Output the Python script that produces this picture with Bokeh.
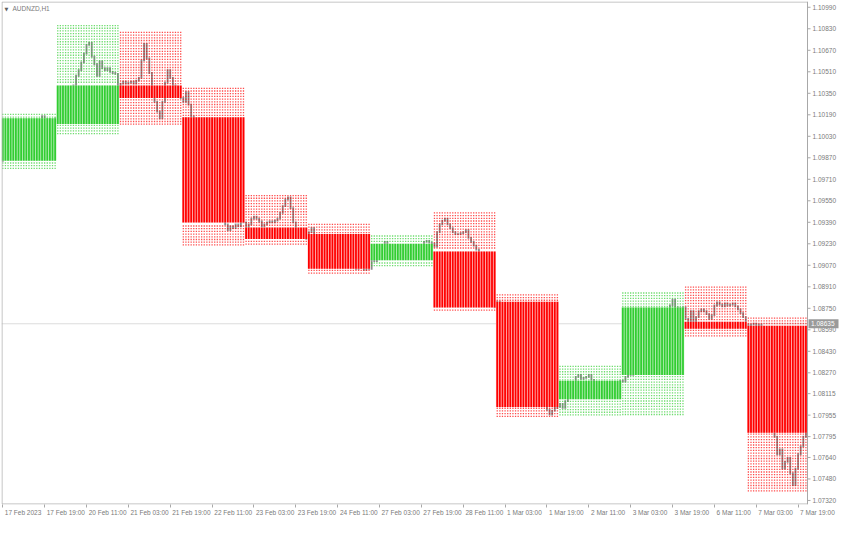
import numpy as np
from bokeh.plotting import figure
from bokeh.models import Range1d, FixedTicker, Span, Label, ColumnDataSource
from bokeh.core.properties import value
from bokeh.embed import file_html
from bokeh.resources import INLINE

symbol = "AUDNZD,H1"

# Daily (higher timeframe) candles
d1_days = ["17 Feb", "20 Feb", "21 Feb", "22 Feb", "23 Feb", "24 Feb", "27 Feb",
           "28 Feb", "1 Mar", "2 Mar", "3 Mar", "6 Mar", "7 Mar"]
d1_bars = [21, 24, 24, 24, 24, 24, 24, 24, 24, 24, 24, 24, 24]   # H1 slots per day
d1_open = [1.09848, 1.10121, 1.10408, 1.10171, 1.09352, 1.09302, 1.09108,
           1.09173, 1.08799, 1.08074, 1.08254, 1.08649, 1.08620]
d1_high = [1.10193, 1.10854, 1.10803, 1.10387, 1.09589, 1.09374, 1.09288,
           1.09460, 1.08850, 1.08318, 1.08864, 1.08907, 1.08677]
d1_low = [1.09783, 1.10056, 1.10121, 1.09223, 1.09223, 1.09015, 1.09072,
          1.08728, 1.07938, 1.07966, 1.07959, 1.08548, 1.07399]
d1_close = [1.10164, 1.10408, 1.10315, 1.09388, 1.09266, 1.09044, 1.09230,
            1.08756, 1.08016, 1.08210, 1.08756, 1.08598, 1.07823]

# Hourly closes (one per H1 bar)
h1_close = [
    # 17 Feb
    1.09870, 1.09890, 1.09865, 1.09880, 1.09910, 1.09895, 1.09930, 1.09970, 1.10010, 1.09990, 1.10040,
    1.10080, 1.10060, 1.10110, 1.10150, 1.10180, 1.10140, 1.10160, 1.10130, 1.10150, 1.10164,
    # 20 Feb
    1.10143, 1.10193, 1.10236, 1.10286, 1.10322, 1.10358, 1.10408, 1.10480, 1.10523, 1.10580, 1.10645, 1.10710,
    1.10724, 1.10623, 1.10566, 1.10480, 1.10588, 1.10537, 1.10523, 1.10537, 1.10509, 1.10501, 1.10494, 1.10408,
    # 21 Feb
    1.10422, 1.10437, 1.10422, 1.10430, 1.10437, 1.10422, 1.10444, 1.10465, 1.10595, 1.10717, 1.10609, 1.10501,
    1.10379, 1.10286, 1.10214, 1.10164, 1.10286, 1.10430, 1.10523, 1.10465, 1.10408, 1.10379, 1.10351, 1.10315,
    # 22 Feb
    1.10286, 1.10358, 1.10265, 1.10178, 1.10107, 1.10035, 1.09963, 1.09891, 1.09834, 1.09783, 1.09733, 1.09676,
    1.09618, 1.09568, 1.09518, 1.09460, 1.09374, 1.09331, 1.09360, 1.09346, 1.09374, 1.09360, 1.09389, 1.09389,
    # 23 Feb
    1.09331, 1.09374, 1.09417, 1.09432, 1.09417, 1.09396, 1.09360, 1.09374, 1.09389, 1.09396, 1.09389, 1.09403,
    1.09417, 1.09460, 1.09511, 1.09561, 1.09575, 1.09496, 1.09389, 1.09331, 1.09302, 1.09288, 1.09274, 1.09267,
    # 24 Feb
    1.09317, 1.09346, 1.09288, 1.09259, 1.09231, 1.09209, 1.09187, 1.09202, 1.09173, 1.09152, 1.09130, 1.09144,
    1.09116, 1.09101, 1.09087, 1.09065, 1.09080, 1.09058, 1.09044, 1.09058, 1.09051, 1.09037, 1.09051, 1.09044,
    # 27 Feb
    1.09116, 1.09101, 1.09130, 1.09159, 1.09202, 1.09245, 1.09216, 1.09187, 1.09173, 1.09159, 1.09144, 1.09159,
    1.09173, 1.09187, 1.09159, 1.09144, 1.09173, 1.09187, 1.09209, 1.09216, 1.09245, 1.09252, 1.09238, 1.09231,
    # 28 Feb
    1.09209, 1.09317, 1.09374, 1.09403, 1.09417, 1.09374, 1.09346, 1.09317, 1.09302, 1.09302, 1.09310, 1.09317,
    1.09331, 1.09274, 1.09245, 1.09216, 1.09187, 1.09159, 1.09065, 1.08994, 1.08922, 1.08865, 1.08814, 1.08757,
    # 1 Mar
    1.08800, 1.08757, 1.08706, 1.08656, 1.08599, 1.08541, 1.08498, 1.08455, 1.08469, 1.08419, 1.08369, 1.08326,
    1.08283, 1.08240, 1.08197, 1.08167, 1.08131, 1.08095, 1.08052, 1.07995, 1.07959, 1.07988, 1.08009, 1.08016,
    # 2 Mar
    1.08038, 1.08009, 1.08059, 1.08110, 1.08153, 1.08197, 1.08240, 1.08254, 1.08225, 1.08232, 1.08240, 1.08254,
    1.08218, 1.08197, 1.08182, 1.08167, 1.08153, 1.08138, 1.08124, 1.08131, 1.08153, 1.08167, 1.08189, 1.08211,
    # 3 Mar
    1.08204, 1.08240, 1.08268, 1.08254, 1.08276, 1.08311, 1.08369, 1.08419, 1.08469, 1.08513, 1.08541, 1.08584,
    1.08613, 1.08635, 1.08656, 1.08671, 1.08699, 1.08728, 1.08771, 1.08814, 1.08757, 1.08742, 1.08750, 1.08757,
    # 6 Mar
    1.08671, 1.08635, 1.08728, 1.08613, 1.08685, 1.08728, 1.08742, 1.08728, 1.08706, 1.08671, 1.08699, 1.08771,
    1.08793, 1.08778, 1.08764, 1.08786, 1.08771, 1.08778, 1.08786, 1.08764, 1.08742, 1.08714, 1.08685, 1.08628,
    # 7 Mar
    1.08613, 1.08628, 1.08635, 1.08620, 1.08628, 1.08599, 1.08455, 1.08276, 1.08095, 1.07916, 1.07794, 1.07664,
    1.07700, 1.07557, 1.07607, 1.07636, 1.07521, 1.07435, 1.07557, 1.07664, 1.07722, 1.07794, 1.07822,
]

x_tick_bars = [0, 16, 32, 48, 64, 80, 96, 112, 128, 144, 160, 176, 192, 208, 224, 240, 256, 272, 288, 304]
x_tick_labels = ["17 Feb 2023", "17 Feb 19:00", "20 Feb 11:00", "21 Feb 03:00", "21 Feb 19:00",
                 "22 Feb 11:00", "23 Feb 03:00", "23 Feb 19:00", "24 Feb 11:00", "27 Feb 03:00",
                 "27 Feb 19:00", "28 Feb 11:00", "1 Mar 03:00", "1 Mar 19:00", "2 Mar 11:00",
                 "3 Mar 03:00", "3 Mar 19:00", "6 Mar 11:00", "7 Mar 03:00", "7 Mar 19:00"]
price_ticks = [1.10990, 1.10830, 1.10670, 1.10510, 1.10350, 1.10190, 1.10030, 1.09870,
               1.09710, 1.09550, 1.09390, 1.09230, 1.09070, 1.08910, 1.08750, 1.08590,
               1.08430, 1.08270, 1.08115, 1.07955, 1.07795, 1.07640, 1.07480, 1.07320]
price_labels = ["%.5f" % v for v in price_ticks]
marker_price = 1.08635

UP = "#32CD32"
DOWN = "#FF0000"
UP_GAP = "#c4f2c4"
DOWN_GAP = "#ffc4c4"
GRAY_TXT = "#7a7a7a"
AXIS = "#a8a8a8"
FONT = "Liberation Sans"
FS = 6.5
W, H = 839, 518
BL, BT, BB = 1, 1, 14
SCALE_PX = 32                      # width of the price scale strip
X0, X1 = -0.5, 307.6               # visible bar range of the chart area
Y0, Y1 = 1.07290, 1.11033
DOT_PX = 2.7                       # vertical spacing of the dotted high-low pattern

frame_w = W - BL
frame_h = H - BT - BB
ppb = (frame_w - SCALE_PX) / (X1 - X0)        # px per bar
ppu = frame_h / (Y1 - Y0)                     # px per price unit
XS = X1 + SCALE_PX / ppb                      # right end incl. price scale

# ---- build sources ----
starts = np.concatenate([[0], np.cumsum(d1_bars)[:-1]])
stripes = {UP: dict(x=[], by0=[], by1=[]), DOWN: dict(x=[], by0=[], by1=[])}
dots = {UP: dict(x=[], y=[]), DOWN: dict(x=[], y=[])}
boxes = dict(l=[], r=[], b=[], t=[], c=[])
step = DOT_PX / ppu
for k in range(len(d1_days)):
    up = d1_close[k] >= d1_open[k]
    c = UP if up else DOWN
    lo_b, hi_b = min(d1_open[k], d1_close[k]), max(d1_open[k], d1_close[k])
    boxes["l"].append(starts[k] - 0.5)
    boxes["r"].append(starts[k] + d1_bars[k] - 0.5)
    boxes["b"].append(lo_b)
    boxes["t"].append(hi_b)
    boxes["c"].append(UP_GAP if up else DOWN_GAP)
    levels = np.arange(d1_high[k], d1_low[k] - step / 2, -step)
    levels = [v for v in levels if v > hi_b + step / 3 or v < lo_b - step / 3]
    for j in range(d1_bars[k]):
        xb = int(starts[k] + j)
        stripes[c]["x"].append(xb)
        stripes[c]["by0"].append(d1_open[k]); stripes[c]["by1"].append(d1_close[k])
        dots[c]["x"].extend([xb] * len(levels))
        dots[c]["y"].extend(levels)

h1_x = list(range(len(h1_close)))
h1_open = [d1_open[0]] + h1_close[:-1]
h1_src = ColumnDataSource(dict(x=h1_x, o=h1_open, c=h1_close))

p = figure(width=W, height=H,
           x_range=Range1d(X0, XS), y_range=Range1d(Y0, Y1),
           output_backend="svg", toolbar_location=None, y_axis_location=None,
           min_border_left=BL, min_border_top=BT, min_border_right=0, min_border_bottom=BB,
           background_fill_color="white", border_fill_color="white")
p.grid.visible = False
p.outline_line_color = None

# current price line (under the candles)
p.add_layout(Span(location=marker_price, dimension="width", line_color="#dcdcdc",
                  line_width=1, level="underlay"))

# H1 candles
p.segment(x0="x", y0="o", x1="x", y1="c", source=h1_src, line_color="#8a8a8a",
          line_width=1.8, line_cap="square")

# D1 high-low region (dotted stripes)
for c, d in dots.items():
    p.scatter(x="x", y="y", source=ColumnDataSource(d), marker="square", size=1.3,
              fill_color=c, fill_alpha=0.7, line_color=None)
# D1 body: pale fill + solid stripes
p.quad(left="l", right="r", bottom="b", top="t", source=ColumnDataSource(boxes),
       fill_color="c", line_color=None)
for c, d in stripes.items():
    p.segment(x0="x", y0="by0", x1="x", y1="by1", source=ColumnDataSource(d), line_color=c,
              line_width=1.8)

# ---- price scale strip (right) ----
p.quad(left=[X1], right=[XS], bottom=[Y0], top=[Y1], fill_color="white", line_color=None)
# chart border
p.quad(left=[X0 + 0.5 / ppb], right=[X1], bottom=[Y0 + 0.5 / ppu], top=[Y1 - 0.5 / ppu],
       fill_color=None, line_color="#b4b4b4", line_width=1)
p.segment(x0=[X1], y0=[Y0], x1=[X1], y1=[Y1], line_color=AXIS, line_width=1)
ysrc = ColumnDataSource(dict(
    x0=[X1] * len(price_ticks), x1=[X1 + 3 / ppb] * len(price_ticks),
    xt=[X1 + 5 / ppb] * len(price_ticks), y=price_ticks, t=price_labels))
p.segment(x0="x0", y0="y", x1="x1", y1="y", source=ysrc, line_color=AXIS, line_width=1)
p.text(x="xt", y="y", text="t", source=ysrc, text_font=value(FONT),
       text_font_size=value("%.1fpx" % FS), text_color=GRAY_TXT,
       text_align="left", text_baseline="middle")
# current price tag
p.rect(x=[X1 + 16 / ppb], y=[marker_price], width=30, height=9,
       width_units="screen", height_units="screen", fill_color="#9a9a9a", line_color=None)
p.text(x=[X1 + 3.5 / ppb], y=[marker_price], text=["%.5f" % marker_price],
       text_font=value(FONT), text_font_size=value("%.1fpx" % FS), text_color="white",
       text_align="left", text_baseline="middle")

# ---- x axis: labels left-aligned on their tick marks (tick marks = minor ticks) ----
CW = {" ": 0.278, ":": 0.278, "F": 0.611, "e": 0.556, "b": 0.556, "M": 0.833,
      "a": 0.556, "r": 0.333}
def text_w(s):
    return sum(CW.get(ch, 0.556) for ch in s) * FS

centers = [b + (2 + text_w(s) / 2) / ppb for b, s in zip(x_tick_bars, x_tick_labels)]
xa = p.xaxis[0]
xa.ticker = FixedTicker(ticks=centers, minor_ticks=x_tick_bars)
xa.major_label_overrides = {cx: s for cx, s in zip(centers, x_tick_labels)}
xa.major_label_text_font = FONT
xa.major_label_text_font_size = "%.1fpx" % FS
xa.major_label_text_color = GRAY_TXT
xa.major_label_standoff = 1
xa.major_tick_line_color = None
xa.major_tick_in = 0
xa.major_tick_out = 3
xa.minor_tick_in = 0
xa.minor_tick_out = 3
xa.minor_tick_line_color = AXIS
xa.axis_line_color = None

# title
p.add_layout(Label(x=X0, y=Y1, x_offset=3, y_offset=-7, text="\u25BC",
                   text_font="DejaVu Sans", text_font_size="5px", text_color="#606060",
                   text_baseline="middle"))
p.add_layout(Label(x=X0, y=Y1, x_offset=11, y_offset=-7, text=symbol,
                   text_font=FONT, text_font_size="%.1fpx" % FS, text_color=GRAY_TXT,
                   text_baseline="middle"))

open("out.html", "w").write(file_html(p, INLINE))
